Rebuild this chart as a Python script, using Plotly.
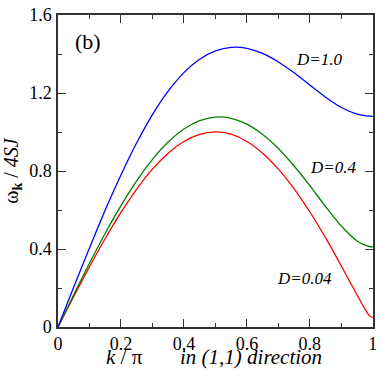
import plotly.graph_objects as go

# k / pi along the (1,1) direction
k_over_pi = [0, 0.05, 0.1, 0.15, 0.2, 0.25, 0.3, 0.35, 0.4, 0.45, 0.5,
             0.55, 0.6, 0.65, 0.7, 0.75, 0.8, 0.85, 0.9, 0.95, 0.975, 0.99, 1.0]

omega_d004 = [0, 0.157, 0.309, 0.454, 0.588, 0.708, 0.810, 0.892, 0.952, 0.988, 1.001,
              0.989, 0.952, 0.892, 0.810, 0.709, 0.590, 0.457, 0.313, 0.164, 0.092, 0.057, 0.048]
omega_d04 = [0, 0.165, 0.327, 0.481, 0.623, 0.750, 0.860, 0.949, 1.016, 1.059, 1.077,
             1.071, 1.041, 0.988, 0.916, 0.826, 0.725, 0.618, 0.518, 0.441, 0.420, 0.413, 0.411]
omega_d10 = [0, 0.205, 0.405, 0.600, 0.780, 0.945, 1.090, 1.210, 1.305, 1.374, 1.417,
             1.435, 1.430, 1.404, 1.360, 1.304, 1.241, 1.179, 1.126, 1.092, 1.084, 1.082, 1.081]

curves = [
    ("D=0.04", omega_d004, "#ff0000"),
    ("D=0.4", omega_d04, "#008000"),
    ("D=1.0", omega_d10, "#0000ff"),
]

SERIF = "Liberation Serif"

fig = go.Figure()
for name, ys, color in curves:
    fig.add_trace(go.Scatter(
        x=k_over_pi,
        y=ys,
        mode="lines",
        name=name,
        line=dict(color=color, width=1.3, shape="spline", smoothing=0.6),
    ))

axis_style = dict(
    showline=True,
    linecolor="#333333",
    linewidth=1.5,
    mirror="ticks",
    ticks="inside",
    ticklen=8,
    tickwidth=1,
    tickcolor="#333333",
    showgrid=False,
    zeroline=False,
    ticklabeloverflow="allow",
    tickfont=dict(family=SERIF, size=18, color="black"),
)

fig.update_xaxes(
    range=[0, 1.0005],
    dtick=0.2,
    tick0=0,
    minor=dict(dtick=0.1, ticks="inside", ticklen=4, tickcolor="#333333"),
    ticklabelstandoff=0,
    **axis_style,
)
fig.update_yaxes(
    range=[0, 1.6008],
    dtick=0.4,
    tick0=0,
    minor=dict(dtick=0.2, ticks="inside", ticklen=4, tickcolor="#333333"),
    ticklabelstandoff=1,
    title=dict(text="ω<sub><b>k</b></sub> / <i>4SJ</i>",
               font=dict(family=SERIF, size=20, color="black"), standoff=8),
    **axis_style,
)

labels = [
    ("(b)", 0.096, 1.467, 22, False),
    ("D=1.0", 0.828, 1.372, 17, True),
    ("D=0.4", 0.875, 0.82, 17, True),
    ("D=0.04", 0.784, 0.247, 17, True),
]
for text, x, y, size, italic in labels:
    fig.add_annotation(
        x=x, y=y, xref="x", yref="y",
        text=f"<i>{text}</i>" if italic else text,
        showarrow=False,
        font=dict(family=SERIF, size=size, color="black"),
    )

fig.add_annotation(
    x=0.21, y=-0.097, xref="paper", yref="paper",
    text="<i>k</i> / π", showarrow=False,
    xanchor="center", yanchor="middle",
    font=dict(family=SERIF, size=21, color="black"),
)
fig.add_annotation(
    x=0.612, y=-0.097, xref="paper", yref="paper",
    text="<i>in (1,1) direction</i>", showarrow=False,
    xanchor="center", yanchor="middle",
    font=dict(family=SERIF, size=21, color="black"),
)

fig.update_layout(
    width=382,
    height=370,
    margin=dict(l=58, r=5, t=9, b=43),
    paper_bgcolor="white",
    plot_bgcolor="white",
    showlegend=False,
)

# the page body has an 8px default margin; drop it so the figure fills the window
fig.write_html(
    "out.html",
    config={"displayModeBar": False},
    post_script="document.body.style.margin='0';",
)
